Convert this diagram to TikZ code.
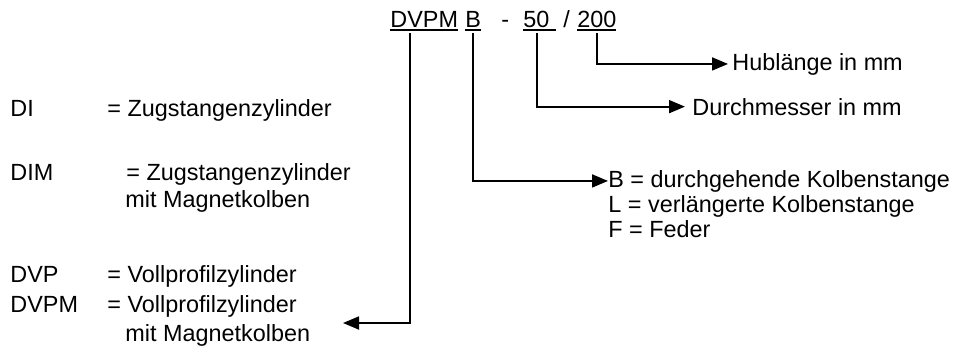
\documentclass[tikz,border=0pt]{standalone}
\usepackage{fontspec}
\setmainfont{Liberation Sans}
\usepackage{tikz}
\usetikzlibrary{arrows.meta}

\newcommand{\ulword}[1]{\setbox0\hbox{#1}\rlap{\rule[-2pt]{\wd0}{0.9pt}}\box0}

\tikzset{
	txt/.style={inner sep=0pt, anchor=base west, font=\fontsize{11.7pt}{14pt}\selectfont},
	conn/.style={line width=0.9pt, -{Triangle[length=8pt,width=6.5pt]}},
}

\begin{document}
\begin{tikzpicture}[x=0.5pt, y=-0.5pt]
			\useasboundingbox (0,0) rectangle (963,360);
			% 型号
			\node[txt, inner ysep=1pt] (dvpm) at (390,27) {\ulword{DVPM}};
			\node[txt, inner ysep=1pt] (codeB) at (465,27) {\ulword{B}};
			\node[txt] (dash) at (501,27) {-};
			\node[txt, inner ysep=1pt] (d50) at (523,27) {\ulword{50\ }};
			\node[txt] (slash) at (563,27) {/};
			\node[txt, inner ysep=1pt] (d200) at (577,27) {\ulword{200}};
			% 右侧说明
			\node[txt, inner xsep=2pt] (hub) at (728,70) {Hublänge in mm};
			\node[txt, inner xsep=3.5pt] (durch) at (685,115) {Durchmesser in mm};
			\node[txt] (optB) at (608,187) {B = durchgehende Kolbenstange};
			\node[txt] (optL) at (608,212) {L = verlängerte Kolbenstange};
			\node[txt] (optF) at (608,237) {F = Feder};
			% 左侧说明
			\node[txt] (di) at (10,116) {DI};
			\node[txt] (diText) at (107,116) {= Zugstangenzylinder};
			\node[txt] (dim) at (10,180) {DIM};
			\node[txt] (dimText) at (126,180) {= Zugstangenzylinder};
			\node[txt] (dimMag) at (125,207) {mit Magnetkolben};
			\node[txt] (dvp) at (10,282) {DVP};
			\node[txt] (dvpText) at (107,282) {= Vollprofilzylinder};
			\node[txt] (dvpmName) at (10,312) {DVPM};
			\node[txt] (dvpmText) at (107,312) {= Vollprofilzylinder};
			\node[txt] (dvpmMag) at (125,341) {mit Magnetkolben};
			% 连线
			\coordinate (dvpmTip) at (343,323);
			\draw[conn] ([xshift=-7pt]dvpm.south) |- (dvpmTip);
			\draw[conn] (codeB.south) |- (optB.west);
			\draw[conn] ([xshift=-1.5pt]d50.south) |- (durch.west);
			\draw[conn] (d200.south) |- (hub.west);
		\end{tikzpicture}
\end{document}
